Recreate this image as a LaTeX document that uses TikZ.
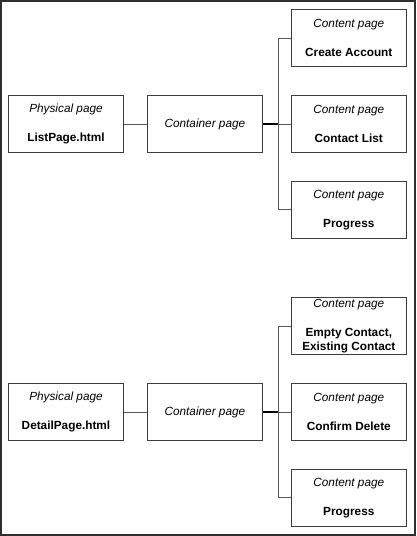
\documentclass[tikz,border=0pt]{standalone}
\usepackage{fontspec}
\setmainfont{Liberation Sans}
\usetikzlibrary{positioning,calc}
\definecolor{pframe}{HTML}{2E2E2E}
\definecolor{pbox}{HTML}{3C3C3C}
\definecolor{pline}{HTML}{5A5A5A}
\tikzset{
 page/.style={draw=pbox,line width=0.9pt,align=center,minimum width=115pt,
   minimum height=57pt,inner sep=0pt,font=\fontsize{11.8}{13.3}\selectfont,fill=white},
 link/.style={draw=pline,line width=0.9pt},
 hublink/.style={link,draw=black,line width=1.5pt}
}
\newcommand{\pglabel}[2]{\textit{#1}\\[16pt]\textbf{#2}}

\begin{document}
\begin{tikzpicture}[x=1pt,y=-1pt]
 \useasboundingbox (0,0) rectangle (416,536);
 \draw[pframe,line width=2.4pt] (1.2,1.2) rectangle (414.8,534.8);
 % list page
 \node[page] (phys1) at (66,124) {\pglabel{Physical page}{ListPage.html}};
 \node[page,right=23pt of phys1] (cont1) {\textit{Container page}};
 \node[page,right=28pt of cont1] (list1) {\pglabel{Content page}{Contact List}};
 \node[page,above=28pt of list1] (create1) {\pglabel{Content page}{Create Account}};
 \node[page,below=28pt of list1] (prog1) {\pglabel{Content page}{Progress}};
 \coordinate[right=16pt of cont1] (hub1);
 \draw[link] (phys1)--(cont1);
 \draw[hublink] (cont1)--(hub1);
 \draw[link] (hub1)--(list1);
 \draw[link] (hub1|-create1)--(hub1|-prog1);
 \draw[link] (hub1|-create1)--(create1);
 \draw[link] (hub1|-prog1)--(prog1);
 % detail page
 \node[page] (phys2) at (66,412) {\pglabel{Physical page}{DetailPage.html}};
 \node[page,right=23pt of phys2] (cont2) {\textit{Container page}};
 \node[page,right=28pt of cont2] (del2) {\pglabel{Content page}{Confirm Delete}};
 \node[page,above=28pt of del2] (edit2) {\textit{Content page}\\[16pt]\textbf{Empty Contact,}\\\textbf{Existing Contact}};
 \node[page,below=28pt of del2] (prog2) {\pglabel{Content page}{Progress}};
 \coordinate[right=16pt of cont2] (hub2);
 \draw[link] (phys2)--(cont2);
 \draw[hublink] (cont2)--(hub2);
 \draw[link] (hub2)--(del2);
 \draw[link] (hub2|-edit2)--(hub2|-prog2);
 \draw[link] (hub2|-edit2)--(edit2);
 \draw[link] (hub2|-prog2)--(prog2);
\end{tikzpicture}
\end{document}
